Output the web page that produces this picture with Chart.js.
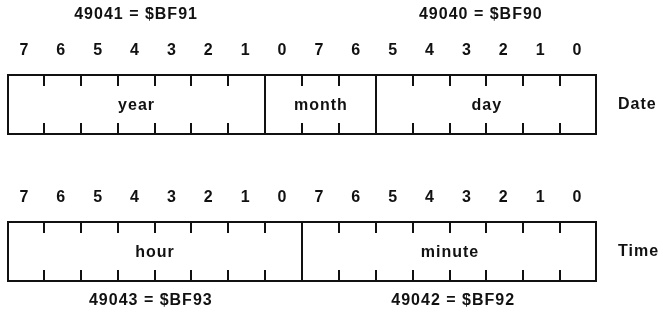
<!DOCTYPE html>
<html><head><meta charset="utf-8">
<script src="https://cdn.jsdelivr.net/npm/chart.js@4"></script>
<style>html,body{margin:0;padding:0;background:#fff}#wrap{width:663px;height:312px;position:relative}</style>
</head><body><div id="wrap"><canvas id="c"></canvas></div>
<script>
const rows = ['Date', 'Time'];
const bitLabels = ['7','6','5','4','3','2','1','0','7','6','5','4','3','2','1','0'];
const dateFields = ['year', 'month', 'day'];
const dateSpans = [[0, 7], [7, 10], [10, 16]];
const timeFields = ['hour', 'minute'];
const timeSpans = [[0, 8], [8, 16]];
const dateBytes = ['49041 = $BF91', '49040 = $BF90'];
const timeBytes = ['49043 = $BF93', '49042 = $BF92'];

const FAMILY = '"Liberation Sans", Arial, sans-serif';
const FONT = 'bold 16px ' + FAMILY;
const INK = '#111';
const SPACING = '1px';

function mk(row, fields, spans) {
  return {
    label: row,
    data: spans.map((s, i) => ({ x: s, y: row, name: fields[i] })),
    backgroundColor: '#fff',
    borderColor: INK,
    borderWidth: ctx => ({
      top: 2, bottom: 2,
      left: ctx.dataIndex === 0 ? 2 : 0,
      right: ctx.dataIndex === spans.length - 1 ? 2 : 0
    }),
    borderSkipped: false,
    inflateAmount: 0,
    barThickness: 61,
    grouped: false,
    clip: false
  };
}

const bitPlugin = {
  id: 'bits',
  beforeDraw(chart) { chart.ctx.letterSpacing = SPACING; },
  afterDatasetsDraw(chart, args, opts) {
    const { ctx, scales: { x } } = chart;
    ctx.save();
    ctx.letterSpacing = SPACING;
    ctx.font = FONT; ctx.fillStyle = INK; ctx.strokeStyle = INK; ctx.lineWidth = 2;
    ctx.textAlign = 'center'; ctx.textBaseline = 'middle';
    const rowBoxes = [];
    chart.data.datasets.forEach((ds, di) => {
      const meta = chart.getDatasetMeta(di);
      let top = 0, bottom = 0;
      meta.data.forEach((bar, j) => {
        const [a, b] = ds.data[j].x;
        top = bar.y - bar.height / 2; bottom = bar.y + bar.height / 2;
        if (a > 0) {
          const px = Math.round(x.getPixelForValue(a));
          ctx.beginPath();
          ctx.moveTo(px, top); ctx.lineTo(px, bottom);
          ctx.stroke();
        }
        for (let k = a + 1; k < b; k++) {
          const px = Math.round(x.getPixelForValue(k));
          ctx.beginPath();
          ctx.moveTo(px, top); ctx.lineTo(px, top + 12);
          ctx.moveTo(px, bottom - 12); ctx.lineTo(px, bottom);
          ctx.stroke();
        }
        ctx.fillText(ds.data[j].name, (bar.x + bar.base) / 2 + 0.5, bar.y + 1);
      });
      rowBoxes.push({ top, bottom });
      bitLabels.forEach((t, i) => ctx.fillText(t, x.getPixelForValue(i + 0.5) - 1, top - 23));
    });
    const d = rowBoxes[0], t = rowBoxes[1];
    dateBytes.forEach((s, i) => ctx.fillText(s, x.getPixelForValue(opts.topAt[i]), d.top - 59));
    timeBytes.forEach((s, i) => ctx.fillText(s, x.getPixelForValue(opts.bottomAt[i]), t.bottom + 19));
    ctx.restore();
  }
};

new Chart(document.getElementById('c'), {
  type: 'bar',
  data: {
    labels: rows,
    datasets: [mk(rows[0], dateFields, dateSpans), mk(rows[1], timeFields, timeSpans)]
  },
  options: {
    indexAxis: 'y',
    responsive: true,
    maintainAspectRatio: false,
    animation: false,
    events: [],
    layout: { padding: { left: 7, top: 104.5, bottom: 60.5, right: 0 } },
    scales: {
      x: { type: 'linear', min: 0, max: 16, display: false },
      y: {
        type: 'category', position: 'right', offset: false,
        grid: { display: false, drawTicks: false },
        border: { display: false },
        ticks: { padding: 21, color: INK, font: { family: FAMILY, size: 16, weight: 'bold' } },
        afterFit(s) { s.width = 66; }
      }
    },
    plugins: {
      legend: { display: false },
      tooltip: { enabled: false },
      bits: { topAt: [3.5, 12.85], bottomAt: [3.9, 12.1] }
    }
  },
  plugins: [bitPlugin]
});
</script>
</body></html>
